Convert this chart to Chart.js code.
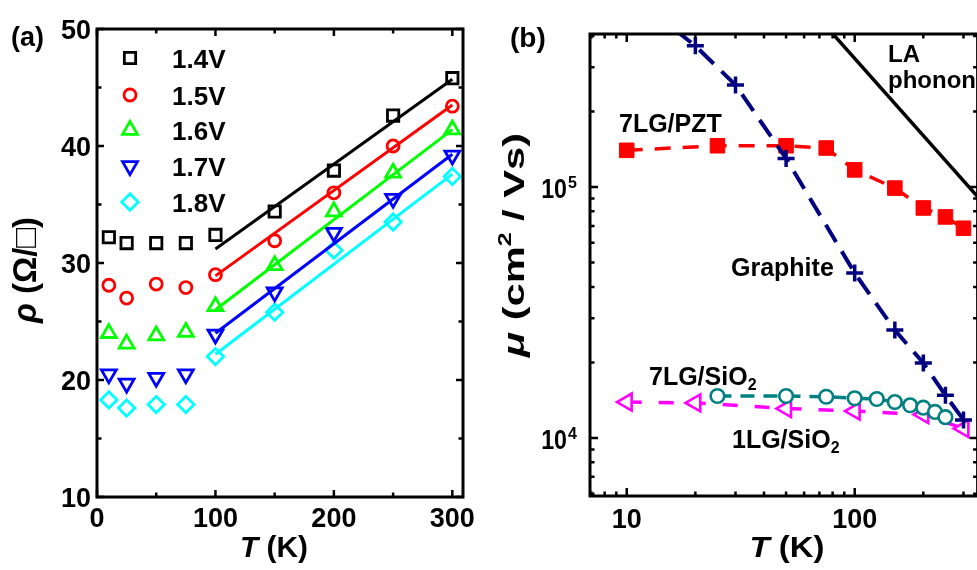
<!DOCTYPE html>
<html><head><meta charset="utf-8">
<script src="https://cdn.jsdelivr.net/npm/chart.js@4"></script>
<style>
html,body{margin:0;padding:0;background:#fff;overflow:hidden;width:977px;height:570px;}
#ca{position:absolute;left:0;top:0;}
#cb{position:absolute;left:490px;top:0;}
</style></head><body>
<canvas id="ca" width="490" height="570"></canvas>
<canvas id="cb" width="500" height="570"></canvas>
<script>
// ---------- Panel (a) data ----------
const T_A = [10, 25, 50, 75, 100, 150, 200, 250, 300];
const RHO_14 = [32.2, 31.7, 31.7, 31.7, 32.4, 34.4, 37.9, 42.6, 45.8];
const RHO_15 = [28.1, 27.0, 28.2, 27.9, 29.0, 31.9, 36.0, 40.0, 43.4];
const RHO_16 = [24.0, 23.1, 23.8, 24.1, 26.3, 29.8, 34.4, 37.7, 41.4];
const RHO_17 = [20.5, 19.7, 20.2, 20.5, 23.9, 27.5, 32.6, 35.5, 39.2];
const RHO_18 = [18.3, 17.6, 17.9, 17.9, 22.0, 25.8, 31.1, 33.5, 37.4];
const FIT_T = [100, 300];
const FIT_14 = [31.2, 45.7];
const FIT_15 = [28.9, 43.5];
const FIT_16 = [26.0, 41.4];
const FIT_17 = [24.0, 39.3];
const FIT_18 = [22.2, 37.6];
const LEGEND_A = ['1.4V', '1.5V', '1.6V', '1.7V', '1.8V'];
const XTICKS_A = [0, 100, 200, 300];
const XMINOR_A = [50, 150, 250];
const YTICKS_A = [10, 20, 30, 40, 50];
const YMINOR_A = [15, 25, 35, 45];

// ---------- Panel (b) data ----------
const PZT_T = [10, 25, 50, 75, 100, 150, 200, 250, 300];
const PZT_MU = [1.40e5, 1.46e5, 1.46e5, 1.43e5, 1.17e5, 9.9e4, 8.25e4, 7.6e4, 6.85e4];
const GRAPHITE_T = [10, 20, 30, 50, 100, 150, 200, 250, 300];
const GRAPHITE_MU = [6.0e5, 3.65e5, 2.55e5, 1.30e5, 4.54e4, 2.69e4, 1.99e4, 1.48e4, 1.18e4];
const LA_T = [60, 400];
const LA_MU = [5.48e5, 7.89e4];
const SIO7_T = [25, 50, 75, 100, 125, 150, 175, 200, 225, 250];
const SIO7_MU = [1.47e4, 1.47e4, 1.46e4, 1.44e4, 1.43e4, 1.39e4, 1.35e4, 1.32e4, 1.27e4, 1.21e4];
const SIO1_T = [10, 20, 50, 100, 200, 300];
const SIO1_MU = [1.39e4, 1.38e4, 1.31e4, 1.28e4, 1.24e4, 1.09e4];
const XTICKS_B = [10, 100];
const XMINOR_B = [7, 8, 9, 20, 30, 40, 50, 60, 70, 80, 90, 200, 300];
const YTICKS_B = [1e4, 1e5];
const YMINOR_B = [6e3, 7e3, 8e3, 9e3, 2e4, 3e4, 4e4, 5e4, 6e4, 7e4, 8e4, 9e4, 2e5, 3e5, 4e5];

const F = "'Liberation Sans', Arial, Helvetica, sans-serif";
const mk = (xs, ys) => xs.map((x, i) => ({x: x, y: ys[i]}));
const CLEAR = 'rgba(0,0,0,0)';

function richText(ctx, segs, x, y, targetW, angle) {
  ctx.save();
  let W = 0;
  const ws = segs.map(s => { ctx.font = s[1]; const w = ctx.measureText(s[0]).width; W += w; return w; });
  const sc = targetW ? targetW / W : 1;
  ctx.translate(x, y);
  if (angle) ctx.rotate(angle);
  ctx.scale(sc, 1);
  ctx.textAlign = 'left'; ctx.textBaseline = 'alphabetic'; ctx.fillStyle = '#000';
  let cx = -W / 2;
  segs.forEach((s, i) => { ctx.font = s[1]; ctx.fillText(s[0], cx, s[2] || 0); cx += ws[i]; });
  ctx.restore();
}
function leftText(ctx, segs, x, y) {
  ctx.save();
  ctx.textAlign = 'left'; ctx.textBaseline = 'alphabetic'; ctx.fillStyle = '#000';
  let cx = x;
  segs.forEach(s => { ctx.font = s[1]; ctx.fillText(s[0], cx, y + (s[2] || 0)); cx += ctx.measureText(s[0]).width; });
  ctx.restore();
}
function frameTicks(ctx, a, xs, ys, xt, xm, yt, ym, LM, Lm) {
  ctx.save();
  ctx.strokeStyle = '#000';
  ctx.lineWidth = 2.5;
  ctx.beginPath();
  const xl = (v, L) => { const p = xs.getPixelForValue(v); if (p < a.left - 0.5 || p > a.right + 0.5) return;
    ctx.moveTo(p, a.bottom); ctx.lineTo(p, a.bottom - L); ctx.moveTo(p, a.top); ctx.lineTo(p, a.top + L); };
  const yl = (v, L) => { const p = ys.getPixelForValue(v); if (p < a.top - 0.5 || p > a.bottom + 0.5) return;
    ctx.moveTo(a.left, p); ctx.lineTo(a.left + L, p); ctx.moveTo(a.right, p); ctx.lineTo(a.right - L, p); };
  xt.forEach(v => xl(v, LM)); xm.forEach(v => xl(v, Lm));
  yt.forEach(v => yl(v, LM)); ym.forEach(v => yl(v, Lm));
  ctx.stroke();
  ctx.lineWidth = 3;
  ctx.lineJoin = 'miter';
  ctx.strokeRect(a.left, a.top, a.right - a.left, a.bottom - a.top);
  ctx.restore();
}
function marker(ctx, style, x, y, r, color, lw) {
  ctx.save();
  ctx.strokeStyle = color; ctx.lineWidth = lw;
  ctx.beginPath();
  if (style === 'rect') { const s = r * Math.SQRT1_2; ctx.rect(x - s, y - s, 2 * s, 2 * s); }
  else if (style === 'circle') { ctx.arc(x, y, r, 0, Math.PI * 2); }
  else if (style === 'up') { ctx.moveTo(x, y - r); ctx.lineTo(x + r * 0.866, y + r / 2); ctx.lineTo(x - r * 0.866, y + r / 2); ctx.closePath(); }
  else if (style === 'down') { ctx.moveTo(x, y + r); ctx.lineTo(x + r * 0.866, y - r / 2); ctx.lineTo(x - r * 0.866, y - r / 2); ctx.closePath(); }
  else if (style === 'diamond') { ctx.moveTo(x - r, y); ctx.lineTo(x, y - r); ctx.lineTo(x + r, y); ctx.lineTo(x, y + r); ctx.closePath(); }
  ctx.stroke();
  ctx.restore();
}

// ---------- Chart (a) ----------
const MW = 2.8;
const STY_A = [
  {c: '#000000', ps: 'rect', r: 8, rot: 0, lg: 'rect'},
  {c: '#ff0000', ps: 'circle', r: 6, rot: 0, lg: 'circle'},
  {c: '#00ff00', ps: 'triangle', r: 8.6, rot: 0, lg: 'up'},
  {c: '#0000ff', ps: 'triangle', r: 8.6, rot: 180, lg: 'down'},
  {c: '#00ffff', ps: 'rectRot', r: 8.2, rot: 0, lg: 'diamond'}
];
const RHO_ALL = [RHO_14, RHO_15, RHO_16, RHO_17, RHO_18];
const FIT_ALL = [FIT_14, FIT_15, FIT_16, FIT_17, FIT_18];
const dsA = [];
RHO_ALL.forEach((rho, i) => {
  const s = STY_A[i];
  dsA.push({label: LEGEND_A[i], data: mk(T_A, rho), showLine: false, pointStyle: s.ps, pointRadius: s.r,
    pointRotation: s.rot, pointBorderColor: s.c, pointBackgroundColor: CLEAR, pointBorderWidth: MW, borderColor: s.c});
  dsA.push({label: LEGEND_A[i] + ' fit', data: mk(FIT_T, FIT_ALL[i]), showLine: true, pointRadius: 0,
    borderColor: s.c, borderWidth: 3});
});

const plugA = {
  id: 'decoA',
  afterDraw(chart) {
    const {ctx, chartArea: a, scales: {x, y}} = chart;
    frameTicks(ctx, a, x, y, XTICKS_A, XMINOR_A, YTICKS_A, YMINOR_A, 7, 4.5);
    ctx.save();
    ctx.fillStyle = '#000';
    ctx.font = 'bold 27px ' + F;
    ctx.textAlign = 'center'; ctx.textBaseline = 'alphabetic';
    XTICKS_A.forEach(v => ctx.fillText(String(v), x.getPixelForValue(v), 527));
    ctx.textAlign = 'right';
    YTICKS_A.forEach(v => ctx.fillText(String(v), 91, y.getPixelForValue(v) + 9.5));
    ctx.textAlign = 'left';
    ctx.font = 'bold 27px ' + F;
    ctx.fillText('(a)', 11, 46);
    const rows = [58, 95, 130, 166, 202];
    ctx.font = 'bold 26px ' + F;
    LEGEND_A.forEach((t, i) => {
      marker(ctx, STY_A[i].lg, 130, rows[i], STY_A[i].r, STY_A[i].c, MW);
      ctx.fillStyle = '#000';
      ctx.fillText(t, 172, rows[i] + 10);
    });
    ctx.restore();
    richText(ctx, [['T', 'italic bold 30px ' + F], [' (K)', 'bold 30px ' + F]], 274, 557, 68, 0);
    richText(ctx, [['\u03C1', 'italic bold 33px ' + F], [' (\u03A9/\u25A1)', 'bold 33px ' + F]], 36, 270, 106, -Math.PI / 2);
  }
};

new Chart(document.getElementById('ca'), {
  type: 'scatter',
  data: {datasets: dsA},
  options: {
    responsive: false, animation: false, events: [],
    layout: {padding: {left: 97, top: 29, right: 27, bottom: 73}},
    plugins: {legend: {display: false}, tooltip: {enabled: false}},
    scales: {
      x: {type: 'linear', min: 0, max: 309, display: false},
      y: {type: 'linear', min: 10, max: 50, display: false}
    }
  },
  plugins: [plugA]
});

// ---------- Chart (b) ----------
const dsB = [
  {label: 'Graphite', data: mk(GRAPHITE_T, GRAPHITE_MU), showLine: true, borderColor: '#000080', borderWidth: 4,
    borderDash: [20, 11], pointStyle: 'cross', pointRadius: 8.5, pointBorderWidth: 3.5, pointBorderColor: '#000080',
    pointBackgroundColor: '#000080'},
  {label: '7LG/SiO2', data: mk(SIO7_T, SIO7_MU), showLine: true, borderColor: '#008080', borderWidth: 3.5,
    borderDash: [14, 9], pointStyle: 'circle', pointRadius: 6.8, pointBorderWidth: 2.6, pointBorderColor: '#008080',
    pointBackgroundColor: '#ffffff'},
  {label: '1LG/SiO2', data: mk(SIO1_T, SIO1_MU), showLine: true, borderColor: '#ff00ff', borderWidth: 3.5,
    borderDash: [15, 17], pointStyle: 'triangle', pointRotation: -90, pointRadius: 9.8, pointBorderWidth: 2.6,
    pointBorderColor: '#ff00ff', pointBackgroundColor: '#ffffff'},
  {label: '7LG/PZT', data: mk(PZT_T, PZT_MU), showLine: true, borderColor: '#ff0000', borderWidth: 3.5,
    borderDash: [16, 12], pointStyle: 'rect', pointRadius: 10.3, pointBorderWidth: 1, pointBorderColor: '#ff0000',
    pointBackgroundColor: '#ff0000'},
  {label: 'LA phonon', data: mk(LA_T, LA_MU), showLine: true, borderColor: '#000000', borderWidth: 3.5, pointRadius: 0}
];

const plugB = {
  id: 'decoB',
  afterDraw(chart) {
    const {ctx, chartArea: a, scales: {x, y}} = chart;
    frameTicks(ctx, a, x, y, XTICKS_B, XMINOR_B, YTICKS_B, YMINOR_B, 8, 4.5);
    ctx.save();
    ctx.fillStyle = '#000';
    ctx.font = 'bold 27px ' + F;
    ctx.textAlign = 'center'; ctx.textBaseline = 'alphabetic';
    XTICKS_B.forEach(v => ctx.fillText(String(v), x.getPixelForValue(v), 528));
    YTICKS_B.forEach(v => {
      const p = y.getPixelForValue(v);
      ctx.save();
      ctx.translate(77, p + 11);
      ctx.scale(0.86, 1);
      ctx.textAlign = 'right';
      ctx.font = 'bold 27px ' + F;
      ctx.fillText('10', 0, 0);
      ctx.restore();
      ctx.textAlign = 'left';
      ctx.font = 'bold 16px ' + F;
      ctx.fillText(String(Math.round(Math.log10(v))), 78, p + 1);
    });
    ctx.textAlign = 'left';
    ctx.font = 'bold 28px ' + F;
    ctx.fillText('(b)', 20, 47);
    ctx.font = 'bold 24px ' + F;
    ctx.fillText('LA', 398, 62);
    ctx.fillText('phonon', 398, 88);
    ctx.font = 'bold 25px ' + F;
    ctx.fillText('7LG/PZT', 129, 132);
    ctx.fillText('Graphite', 241, 276);
    ctx.restore();
    leftText(ctx, [['7LG/SiO', 'bold 25px ' + F], ['2', 'bold 16px ' + F, 5]], 159, 385);
    leftText(ctx, [['1LG/SiO', 'bold 25px ' + F], ['2', 'bold 16px ' + F, 5]], 242, 448);
    richText(ctx, [['T', 'italic bold 30px ' + F], [' (K)', 'bold 30px ' + F]], 297, 557, 75, 0);
    richText(ctx, [['\u03BC', 'italic bold 30px ' + F], [' (cm', 'bold 30px ' + F], ['2', 'bold 18px ' + F, -13],
      [' / Vs)', 'bold 30px ' + F]], 34, 245, 224, -Math.PI / 2);
  }
};

new Chart(document.getElementById('cb'), {
  type: 'scatter',
  data: {datasets: dsB},
  options: {
    responsive: false, animation: false, events: [],
    layout: {padding: {left: 100, top: 34, right: 9, bottom: 74}},
    plugins: {legend: {display: false}, tooltip: {enabled: false}},
    scales: {
      x: {type: 'logarithmic', min: 6.90, max: 346, display: false},
      y: {type: 'logarithmic', min: 5873, max: 4.07e5, display: false}
    }
  },
  plugins: [plugB]
});
</script>
</body></html>
